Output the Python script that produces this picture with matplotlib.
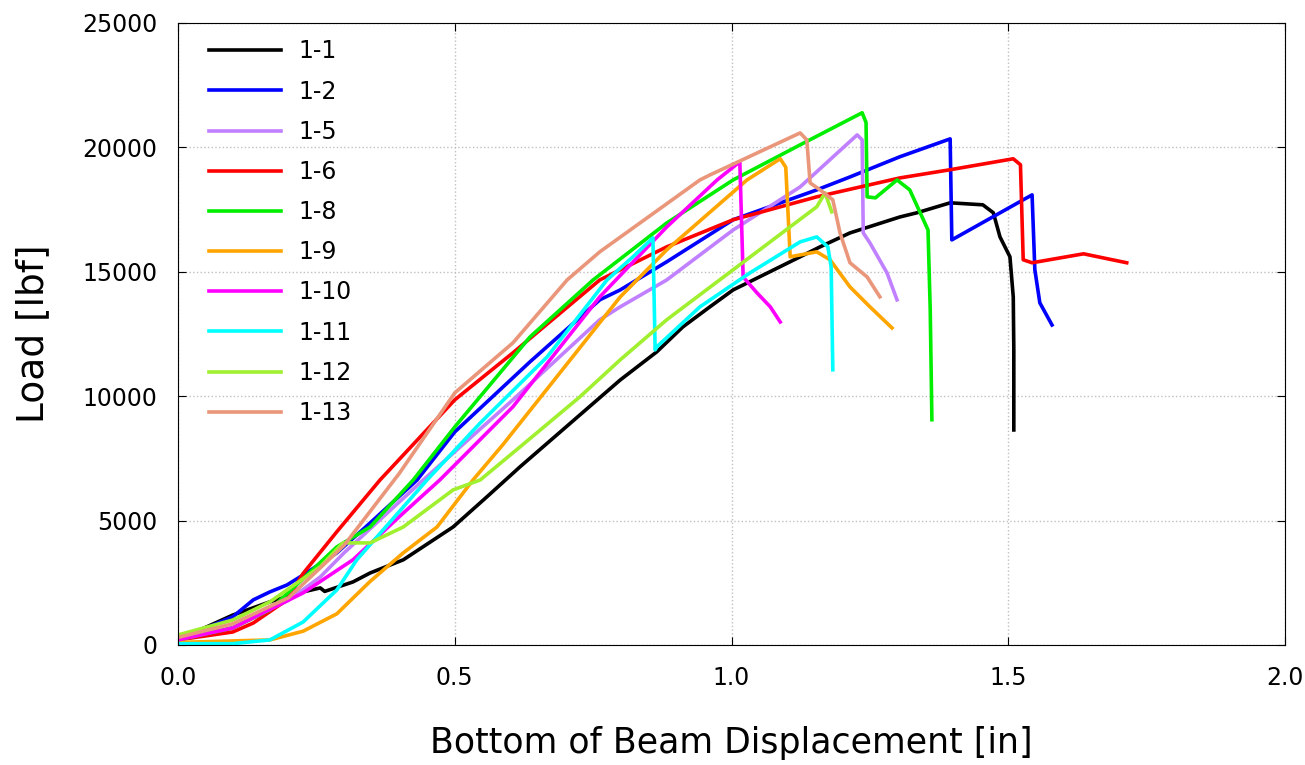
import matplotlib
matplotlib.use('Agg')
import matplotlib.pyplot as plt

# load-displacement curves (x in inches, y in lbf)
x_1_1 = [0.0, 0.099, 0.166, 0.226, 0.257, 0.265, 0.316, 0.347, 0.407, 0.497, 0.558, 0.618, 0.799, 0.865, 0.912, 0.961, 1.003, 1.124, 1.160, 1.214, 1.304, 1.335, 1.395, 1.454, 1.473, 1.485, 1.503, 1.509, 1.510, 1.510]
y_1_1 = [200, 1200, 1730, 2130, 2290, 2150, 2530, 2890, 3420, 4740, 5950, 7160, 10650, 11780, 12780, 13590, 14270, 15600, 16000, 16560, 17200, 17370, 17770, 17690, 17370, 16400, 15600, 13990, 11860, 8640]

x_1_2 = [0.0, 0.099, 0.136, 0.166, 0.197, 0.226, 0.287, 0.347, 0.432, 0.500, 0.636, 0.762, 0.799, 0.883, 1.003, 1.154, 1.214, 1.304, 1.395, 1.398, 1.543, 1.548, 1.557, 1.579]
y_1_2 = [200, 1130, 1810, 2130, 2410, 2810, 3700, 4900, 6630, 8560, 11380, 13870, 14270, 15400, 17090, 18290, 18810, 19620, 20340, 16280, 18090, 15080, 13750, 12860]

x_1_5 = [0.0, 0.099, 0.200, 0.257, 0.300, 0.378, 0.443, 0.605, 0.762, 0.799, 0.883, 1.003, 1.124, 1.227, 1.236, 1.238, 1.250, 1.281, 1.299]
y_1_5 = [200, 700, 1800, 2730, 3700, 5300, 6630, 9850, 13070, 13590, 14670, 16680, 18410, 20500, 20300, 16560, 16160, 14950, 13870]

x_1_6 = [0.0, 0.099, 0.136, 0.197, 0.226, 0.287, 0.365, 0.500, 0.605, 0.762, 0.883, 1.003, 1.154, 1.304, 1.395, 1.509, 1.522, 1.527, 1.543, 1.636, 1.714]
y_1_6 = [200, 520, 880, 1810, 2870, 4550, 6630, 9850, 11740, 14670, 16000, 17090, 18010, 18770, 19100, 19540, 19300, 15480, 15360, 15720, 15360]

x_1_8 = [0.0, 0.099, 0.166, 0.287, 0.347, 0.425, 0.500, 0.636, 0.750, 0.883, 1.003, 1.124, 1.236, 1.243, 1.245, 1.260, 1.299, 1.322, 1.355, 1.359, 1.362]
y_1_8 = [200, 680, 1410, 3940, 4740, 6630, 8760, 12380, 14670, 16960, 18690, 20100, 21390, 21000, 18010, 17970, 18690, 18290, 16680, 13470, 9050]

x_1_9 = [0.0, 0.166, 0.226, 0.287, 0.347, 0.407, 0.468, 0.533, 0.587, 0.799, 0.883, 1.028, 1.088, 1.098, 1.106, 1.154, 1.178, 1.214, 1.250, 1.290]
y_1_9 = [100, 200, 550, 1250, 2550, 3700, 4740, 6630, 8050, 13990, 15880, 18690, 19540, 19200, 15600, 15800, 15480, 14390, 13590, 12740]

x_1_10 = [0.0, 0.099, 0.226, 0.316, 0.407, 0.473, 0.605, 0.762, 0.786, 0.883, 0.974, 1.015, 1.021, 1.046, 1.070, 1.088]
y_1_10 = [200, 680, 2090, 3420, 5300, 6630, 9570, 13990, 14550, 16800, 18690, 19420, 14790, 14150, 13590, 12980]

x_1_11 = [0.0, 0.099, 0.166, 0.226, 0.287, 0.323, 0.450, 0.546, 0.667, 0.775, 0.822, 0.858, 0.862, 0.865, 0.943, 1.033, 1.124, 1.154, 1.174, 1.180, 1.183]
y_1_11 = [50, 50, 200, 920, 2210, 3420, 6630, 8920, 11580, 14670, 15600, 16360, 11860, 11980, 13590, 14950, 16200, 16400, 16000, 15200, 11060]

x_1_12 = [0.0, 0.099, 0.166, 0.257, 0.298, 0.347, 0.407, 0.497, 0.546, 0.618, 0.726, 0.799, 0.883, 1.003, 1.154, 1.169, 1.181]
y_1_12 = [400, 1000, 1730, 3140, 4100, 4100, 4740, 6230, 6630, 7960, 9970, 11460, 13070, 15080, 17610, 18170, 17410]

x_1_13 = [0.0, 0.099, 0.200, 0.300, 0.400, 0.500, 0.605, 0.703, 0.762, 0.943, 0.961, 1.124, 1.136, 1.142, 1.160, 1.183, 1.196, 1.214, 1.245, 1.268]
y_1_13 = [300, 850, 1900, 4000, 6900, 10130, 12140, 14670, 15800, 18690, 18890, 20580, 20300, 18570, 18290, 17890, 16560, 15360, 14790, 13990]

labels = ['1-1', '1-2', '1-5', '1-6', '1-8', '1-9', '1-10', '1-11', '1-12', '1-13']
colors = ['#000000', '#0000ff', '#c080ff', '#ff0000', '#00ee00', '#ffa500', '#ff00ff', '#00ffff', '#a0f030', '#e9967a']
xs = [x_1_1, x_1_2, x_1_5, x_1_6, x_1_8, x_1_9, x_1_10, x_1_11, x_1_12, x_1_13]
ys = [y_1_1, y_1_2, y_1_5, y_1_6, y_1_8, y_1_9, y_1_10, y_1_11, y_1_12, y_1_13]

fig = plt.figure(figsize=(13.05, 7.65), dpi=100)
ax = fig.add_axes([0.1364, 0.157, 0.8483, 0.813])

for x, y, c, lab in zip(xs, ys, colors, labels):
    ax.plot(x, y, color=c, linewidth=2.6, label=lab)

ax.set_xlim(0, 2.0)
ax.set_ylim(0, 25000)
ax.set_xticks([0.0, 0.5, 1.0, 1.5, 2.0])
ax.set_xticklabels(['0.0', '0.5', '1.0', '1.5', '2.0'])
ax.set_yticks(range(0, 25001, 5000))
ax.tick_params(direction='in', labelsize=17, length=6, top=True, right=True, pad=15)
ax.grid(True, color='#c0c0c0', linestyle=':', linewidth=1)

ax.set_xlabel('Bottom of Beam Displacement [in]', fontsize=25, labelpad=26)
ax.set_ylabel('Load [lbf]', fontsize=27, labelpad=22)

ax.legend(loc='upper left', bbox_to_anchor=(0.028, 0.9735), frameon=False,
          fontsize=17, handlelength=3.05, labelspacing=0.685,
          borderaxespad=0, borderpad=0, handletextpad=0.72)

fig.savefig('out.png', dpi=100)
